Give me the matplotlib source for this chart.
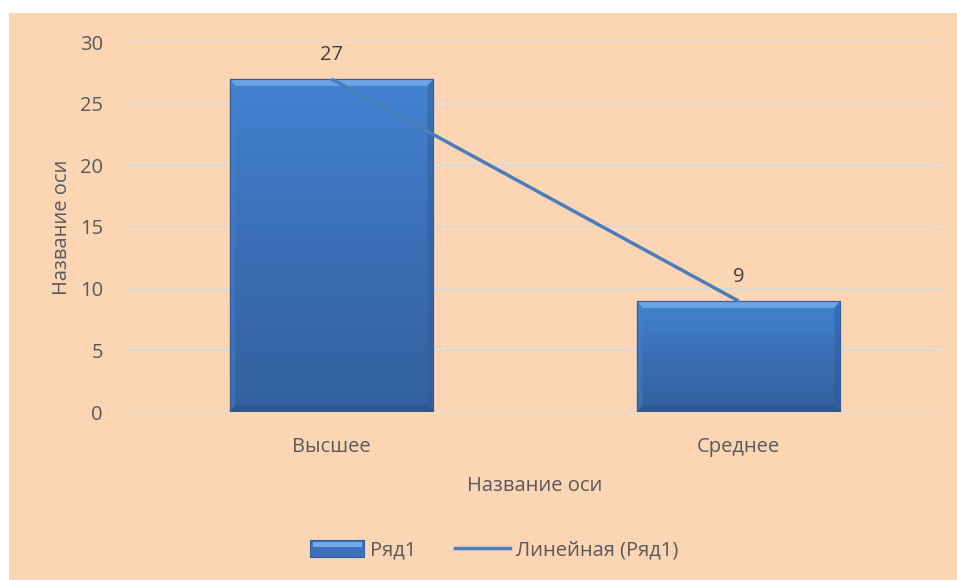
import numpy as np
import matplotlib
matplotlib.use("Agg")
import matplotlib.pyplot as plt
from matplotlib.patches import Rectangle, Polygon
from matplotlib.colors import LinearSegmentedColormap
from matplotlib.legend_handler import HandlerPatch

plt.rcParams['font.family'] = ['Open Sans', 'DejaVu Sans']

categories = ["Высшее", "Среднее"]
values = [27, 9]
series_name = "Ряд1"
trend_name = "Линейная (Ряд1)"
yticks = [0, 5, 10, 15, 20, 25, 30]
axis_title = "Название оси"

BG = "#FCD5B5"
TXT = "#595959"
GRID = "#D9D9D9"
FS = 14.5

fig = plt.figure(figsize=(9.57, 5.8), dpi=100)
fig.patch.set_facecolor("white")
fig.add_artist(Rectangle((9/957, 0), 1 - 9/957, 1 - 13/580, transform=fig.transFigure,
                         facecolor=BG, edgecolor="none", zorder=-10))

ax = fig.add_axes([128/957, 1 - 412/580, (942 - 128)/957, (412 - 42)/580])
ax.set_facecolor("none")
ax.set_xlim(-0.5, len(categories) - 0.5)
ax.set_ylim(0, 30)
ax.set_yticks(yticks)
ax.set_yticklabels([str(t) for t in yticks])
ax.set_xticks(range(len(categories)))
ax.set_xticklabels(categories)
ax.tick_params(axis="both", length=0, colors=TXT, labelsize=FS)
ax.tick_params(axis="y", pad=18)
ax.tick_params(axis="x", pad=18)
for s in ax.spines.values():
    s.set_visible(False)
ax.grid(axis="y", color=GRID, linewidth=1.3, zorder=0)
ax.set_axisbelow(True)

x = np.arange(len(categories))
bw = 0.5
bars = ax.bar(x, values, width=bw, color="#3C72BD", edgecolor="#2E5C99",
              linewidth=0.8, zorder=2)

cmap = LinearSegmentedColormap.from_list("g", ["#33609F", "#3A6FB5", "#4283D2"])
grad = np.linspace(0, 1, 256).reshape(-1, 1)
for b in bars:
    x0, y0 = b.get_x(), b.get_y()
    w, h = b.get_width(), b.get_height()
    im = ax.imshow(grad, extent=[x0, x0 + w, y0, y0 + h], origin="lower",
                   cmap=cmap, aspect="auto", zorder=2.5)
    im.set_clip_path(b)
    bx = 0.014
    by = 0.55
    ax.add_patch(Polygon([[x0, y0 + h], [x0 + w, y0 + h], [x0 + w - bx, y0 + h - by],
                          [x0 + bx, y0 + h - by]], closed=True, facecolor="#74AAE8",
                         edgecolor="none", alpha=0.85, zorder=2.6))
    ax.add_patch(Polygon([[x0, y0], [x0 + w, y0], [x0 + w - bx, y0 + by],
                          [x0 + bx, y0 + by]], closed=True, facecolor="#2A5289",
                         edgecolor="none", alpha=0.6, zorder=2.6))
    ax.add_patch(Polygon([[x0 + w, y0], [x0 + w, y0 + h], [x0 + w - bx, y0 + h - by],
                          [x0 + w - bx, y0 + by]], closed=True, facecolor="#2E5A95",
                         edgecolor="none", alpha=0.45, zorder=2.6))
    ax.add_patch(Polygon([[x0, y0], [x0, y0 + h], [x0 + bx, y0 + h - by],
                          [x0 + bx, y0 + by]], closed=True, facecolor="#4A80C4",
                         edgecolor="none", alpha=0.45, zorder=2.6))
    ax.add_patch(Rectangle((x0, y0), w, h, facecolor="none", edgecolor="#325F9C",
                           linewidth=0.8, zorder=2.7))

for xi, v in zip(x, values):
    ax.text(xi, v + 1.1, str(v), ha="center", va="bottom", fontsize=FS, color="#404040",
            zorder=5)

coef = np.polyfit(x, values, 1)
ax.plot(x, np.polyval(coef, x), color="#4A7EBB", linewidth=2.5, zorder=4,
        solid_capstyle="butt")

ax.set_xlabel(axis_title, fontsize=FS, color=TXT, labelpad=14)
ax.set_ylabel(axis_title, fontsize=FS, color=TXT, labelpad=6)


class BevelHandler(HandlerPatch):
    def create_artists(self, legend, orig_handle, xdescent, ydescent, width, height,
                       fontsize, trans):
        r = Rectangle((-xdescent, -ydescent), width, height,
                      facecolor="#3C72BD", edgecolor="#2E5C99", linewidth=0.8,
                      transform=trans)
        top = Rectangle((-xdescent + 2, -ydescent + height * 0.55), width - 4, height * 0.3,
                        facecolor="#74AAE8", edgecolor="none", transform=trans)
        return [r, top]


bar_handle = Rectangle((0, 0), 1, 1, facecolor="#3C72BD")
line_handle = plt.Line2D([], [], color="#4A7EBB", linewidth=2.5)
leg = fig.legend([bar_handle, line_handle], [series_name, trend_name],
                 loc="center", bbox_to_anchor=(494/957, 1 - 550/580), ncol=2,
                 frameon=False, fontsize=FS, handlelength=2.7, handleheight=0.9,
                 handletextpad=0.3, columnspacing=1.9,
                 handler_map={bar_handle: BevelHandler()})
for t in leg.get_texts():
    t.set_color(TXT)

fig.savefig("out.png", dpi=100, facecolor=fig.get_facecolor())
